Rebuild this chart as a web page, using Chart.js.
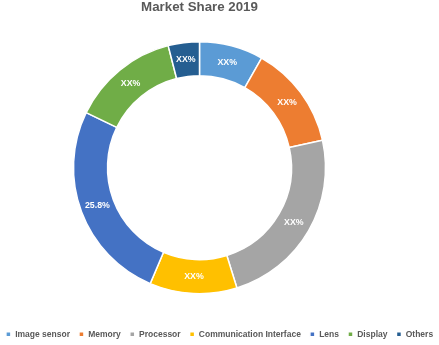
<!DOCTYPE html>
<html>
<head>
<meta charset="utf-8">
<script src="https://cdn.jsdelivr.net/npm/chart.js@4.4.1/dist/chart.umd.min.js"></script>
<style>
  html, body { margin: 0; padding: 0; background: #fff; }
  #wrap { width: 439px; height: 345px; position: relative; }
</style>
</head>
<body>
<div id="wrap"><canvas id="myChart"></canvas></div>
<script>
// Data
const categories = ['Image sensor', 'Memory', 'Processor', 'Communication Interface', 'Lens', 'Display', 'Others'];
const shares = [8.2, 13.3, 23.7, 11.2, 25.8, 13.8, 4.0];
const sliceLabels = ['XX%', 'XX%', 'XX%', 'XX%', '25.8%', 'XX%', 'XX%'];
const sliceColors = ['#5B9BD5', '#ED7D31', '#A5A5A5', '#FFC000', '#4472C4', '#70AD47', '#255E91'];

// white text in the middle of each slice
const sliceLabelPlugin = {
  id: 'sliceLabels',
  afterDatasetsDraw(chart) {
    const ctx = chart.ctx;
    const meta = chart.getDatasetMeta(0);
    ctx.save();
    ctx.font = 'bold 8.8px "Liberation Sans", Arial, sans-serif';
    ctx.fillStyle = '#ffffff';
    ctx.textAlign = 'center';
    ctx.textBaseline = 'middle';
    meta.data.forEach((arc, i) => {
      const p = arc.tooltipPosition();
      ctx.fillText(sliceLabels[i], p.x, p.y);
    });
    ctx.restore();
  }
};

const ctx = document.getElementById('myChart');

new Chart(ctx, {
  type: 'doughnut',
  data: {
    labels: categories,
    datasets: [{
      data: shares,
      backgroundColor: sliceColors,
      borderColor: '#ffffff',
      borderWidth: 1.5
    }]
  },
  options: {
    responsive: true,
    maintainAspectRatio: false,
    animation: false,
    radius: 126,
    cutout: '73%',
    layout: {
      padding: { top: 1, bottom: -3.5, left: -4, right: -4 }
    },
    plugins: {
      title: {
        display: true,
        text: 'Market Share 2019',
        fullSize: false,
        color: '#595959',
        font: { family: '"Liberation Sans", Arial, sans-serif', size: 13.3, weight: 'bold', lineHeight: 1 },
        padding: { top: 0, bottom: 0 }
      },
      // empty box on the right so the ring sits left of the page centre
      subtitle: {
        display: true,
        position: 'right',
        text: '',
        fullSize: false,
        font: { size: 10, lineHeight: 1 },
        padding: { top: 17, bottom: 17 }
      },
      legend: {
        position: 'bottom',
        labels: {
          boxWidth: 5,
          boxHeight: 5,
          padding: 9,
          color: '#595959',
          font: { family: '"Liberation Sans", Arial, sans-serif', size: 8.5, weight: 'bold' }
        }
      },
      tooltip: { enabled: false }
    }
  },
  plugins: [sliceLabelPlugin]
});
</script>
</body>
</html>
